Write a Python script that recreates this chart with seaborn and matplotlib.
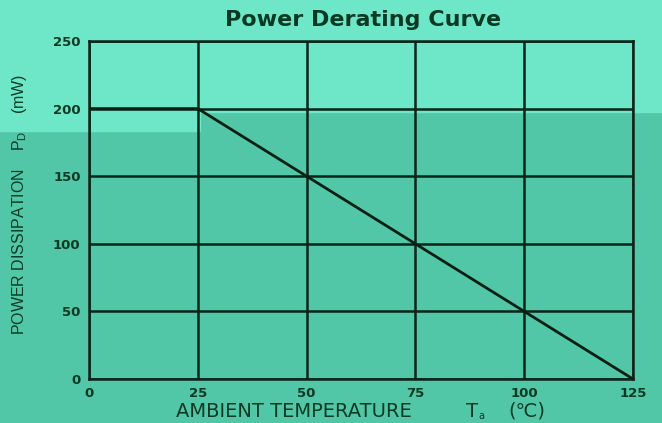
import matplotlib
matplotlib.use("Agg")
import matplotlib.pyplot as plt
from matplotlib.patches import Rectangle
import seaborn as sns
import pandas as pd

# derating curve
temps = [0, 25, 125]
power = [200, 200, 0]
x_ticks = [0, 25, 50, 75, 100, 125]
y_ticks = [0, 50, 100, 150, 200, 250]

light = "#6ee6c8"
dark = "#52c7a7"
ink = "#0b3a24"

sns.set_theme(style="white")
plt.rcParams["font.family"] = ["Liberation Sans", "DejaVu Sans"]
plt.rcParams["mathtext.fontset"] = "custom"
plt.rcParams["mathtext.rm"] = "Liberation Sans"
plt.rcParams["mathtext.it"] = "Liberation Sans"

W, H = 662, 423
fig = plt.figure(figsize=(6.62, 4.23), dpi=100, facecolor=dark)
# lighter band along the top of the slide
fig.patches.append(Rectangle((0, 1 - 131 / H), 200 / W, 131 / H,
                             transform=fig.transFigure, color=light, zorder=-2))
fig.patches.append(Rectangle((200 / W, 1 - 112 / H), 1 - 200 / W, 112 / H,
                             transform=fig.transFigure, color=light, zorder=-2))

ax = fig.add_axes([89 / W, 1 - 379 / H, 544 / W, 338 / H])
ax.patch.set_alpha(0)

df = pd.DataFrame({"temp": temps, "power": power})
sns.lineplot(data=df, x="temp", y="power", ax=ax, color="#0a1f14", linewidth=2)

ax.set_xlim(0, 125)
ax.set_ylim(0, 250)
ax.set_xticks(x_ticks)
ax.set_yticks(y_ticks)
ax.grid(True, color="#0a2418", linewidth=1.8)
for s in ax.spines.values():
    s.set_color("#0a2418")
    s.set_linewidth(1.8)
ax.tick_params(length=0, labelsize=9.5, labelcolor=ink, pad=6)
for lab in ax.get_xticklabels() + ax.get_yticklabels():
    lab.set_fontweight("bold")
    lab.set_family("DejaVu Sans")
ax.set_xlabel("")
ax.set_ylabel("")

# axis titles placed like on the original slide
xl_y = 1 - 411 / H
fig.text(176 / W, xl_y, "AMBIENT TEMPERATURE", ha="left", va="center", fontsize=14,
         color=ink, family=["DejaVu Sans"])
fig.text(466 / W, xl_y, "T", ha="left", va="center", fontsize=14, color=ink,
         family=["DejaVu Sans"])
fig.text(478 / W, 1 - 416 / H, "a", ha="left", va="center", fontsize=7, color=ink,
         family=["DejaVu Sans"])
fig.text(508 / W, xl_y, "(℃)", ha="left", va="center", fontsize=14, color=ink,
         family=["DejaVu Sans"])
fig.text(20 / W, 1 - 204 / H, r"POWER DISSIPATION    P$_D$    (mW)", rotation=90,
         ha="center", va="center", fontsize=11.5, color=ink)
fig.text(363 / W, 1 - 20 / H, "Power Derating Curve", ha="center", va="center",
         fontsize=16, fontweight="bold", color=ink, family=["DejaVu Sans"])

fig.savefig("out.png", dpi=100, facecolor=fig.get_facecolor())
